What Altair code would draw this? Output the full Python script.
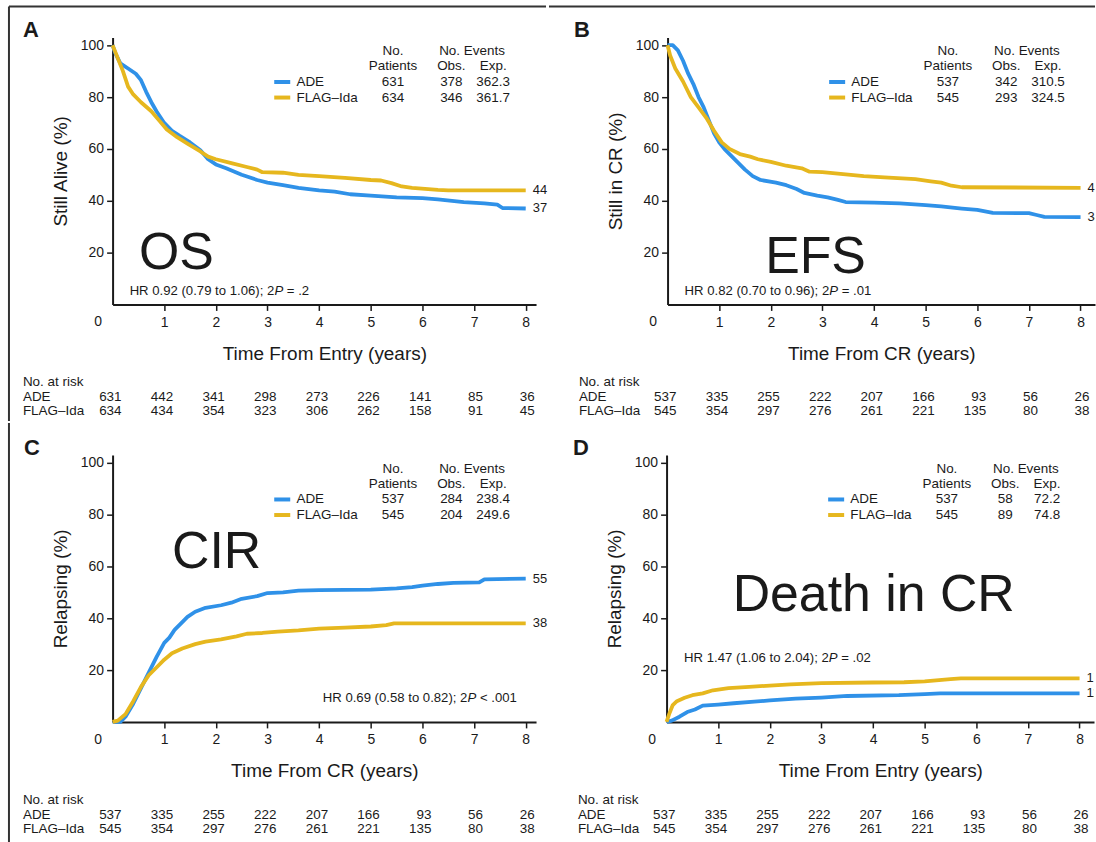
import altair as alt
import pandas as pd

FONT = "Liberation Sans"
INK = "#1a1a1a"
BLUE = "#2F91E8"
GOLD = "#E6B71E"
ARMS = ["ADE", "FLAG–Ida"]
YEARS = [0, 1, 2, 3, 4, 5, 6, 7, 8]
Y_TICKS = [20, 40, 60, 80, 100]

# ---------------- curve data (years, %) ----------------
OS_ADE_T = [0, 0.05, 0.15, 0.3, 0.45, 0.55, 0.65, 0.75, 0.85, 1.0, 1.15, 1.3, 1.5, 1.7, 1.85, 2.0, 2.2, 2.5, 2.8, 3.0,
            3.3, 3.6, 4.0, 4.3, 4.6, 5.0, 5.5, 6.0, 6.3, 6.8, 7.2, 7.45, 7.55, 8.0]
OS_ADE_V = [100, 97, 93, 91, 89, 86.5, 82, 78, 74.5, 70, 67, 65, 62.5, 59.5, 56, 54, 52.5, 50, 48, 47,
            46, 45, 44, 43.5, 42.5, 42, 41.3, 41, 40.5, 39.5, 39, 38.5, 37.2, 37]
OS_FLAG_T = [0, 0.1, 0.2, 0.3, 0.4, 0.55, 0.75, 0.9, 1.05, 1.25, 1.45, 1.7, 1.85, 2.0, 2.3, 2.6, 2.8, 2.9, 3.3, 3.6,
             4.0, 4.5, 5.0, 5.2, 5.4, 5.6, 5.8, 6.3, 6.5, 8.0]
OS_FLAG_V = [100, 95, 90, 84, 81, 78, 74.5, 71, 67.5, 64.5, 62, 59, 57, 56, 54.5, 53, 52, 51, 50.8, 50,
             49.5, 48.8, 48, 47.8, 46.8, 45.5, 45, 44.2, 44, 44]

EFS_ADE_T = [0, 0.1, 0.2, 0.3, 0.4, 0.5, 0.6, 0.7, 0.8, 0.9, 1.0, 1.1, 1.2, 1.35, 1.5, 1.65, 1.8, 2.1, 2.3, 2.5,
             2.65, 2.9, 3.1, 3.3, 3.45, 4.0, 4.5, 5.0, 5.3, 5.7, 6.0, 6.3, 7.0, 7.15, 7.3, 8.0]
EFS_ADE_V = [100, 100, 98, 94, 89, 85, 80, 76, 71, 66, 62.5, 60, 58, 55, 52, 49.5, 48, 47, 46, 44.5,
             43, 42, 41.3, 40.3, 39.5, 39.3, 39, 38.3, 37.8, 37, 36.5, 35.3, 35.2, 34.5, 33.8, 33.7]
EFS_FLAG_T = [0, 0.05, 0.15, 0.3, 0.45, 0.6, 0.75, 0.9, 1.05, 1.2, 1.4, 1.6, 1.75, 2.0, 2.3, 2.6, 2.75, 3.0, 3.4, 3.8,
              4.2, 4.8, 5.1, 5.3, 5.5, 5.7, 8.0]
EFS_FLAG_V = [100, 96, 91, 86, 80, 76, 72, 67, 62.5, 60, 58, 57, 56, 55, 53.5, 52.5, 51.2, 51, 50.3, 49.5,
              49, 48.3, 47.5, 47, 45.8, 45.2, 45]

CIR_ADE_T = [0, 0.15, 0.25, 0.4, 0.55, 0.7, 0.85, 1.0, 1.1, 1.2, 1.35, 1.45, 1.6, 1.8, 2.1, 2.3, 2.5, 2.8, 3.0, 3.3,
             3.6, 4.0, 5.0, 5.5, 5.8, 6.0, 6.3, 6.6, 7.1, 7.2, 8.0]
CIR_ADE_V = [0, 0, 2, 7, 13, 19, 25, 30.5, 32.5, 35.5, 38.5, 40.5, 42.5, 44, 45, 46, 47.5, 48.5, 49.7, 50,
             50.6, 50.8, 51, 51.5, 52, 52.6, 53.2, 53.6, 53.8, 55, 55.3]
CIR_FLAG_T = [0, 0.1, 0.25, 0.4, 0.55, 0.7, 0.85, 1.0, 1.15, 1.35, 1.6, 1.8, 2.1, 2.4, 2.6, 2.9, 3.2, 3.6, 4.0, 4.5,
              5.0, 5.3, 5.45, 8.0]
CIR_FLAG_V = [0, 0.5, 3, 8, 13.5, 18, 21, 24, 26.5, 28.3, 30, 31, 31.8, 33, 34, 34.3, 34.8, 35.3, 36, 36.4,
              36.8, 37.3, 38, 38]

DCR_ADE_T = [0, 0.1, 0.25, 0.4, 0.55, 0.7, 1.0, 1.3, 1.7, 2.0, 2.5, 3.0, 3.5, 4.5, 5.0, 5.3, 8.0]
DCR_ADE_V = [0, 0.5, 2, 3.8, 4.8, 6.3, 6.7, 7.2, 7.8, 8.3, 9, 9.4, 10, 10.3, 10.7, 11, 11]
DCR_FLAG_T = [0, 0.05, 0.12, 0.2, 0.35, 0.5, 0.7, 0.9, 1.2, 1.6, 2.0, 2.4, 3.0, 4.0, 4.6, 5.0, 5.5, 5.7, 8.0]
DCR_FLAG_V = [0, 3, 6.5, 8, 9.3, 10.3, 11, 12.2, 13, 13.5, 14, 14.5, 15, 15.2, 15.3, 15.6, 16.5, 16.8, 16.8]

CURVES = [
    ((OS_ADE_T, OS_ADE_V), (OS_FLAG_T, OS_FLAG_V)),
    ((EFS_ADE_T, EFS_ADE_V), (EFS_FLAG_T, EFS_FLAG_V)),
    ((CIR_ADE_T, CIR_ADE_V), (CIR_FLAG_T, CIR_FLAG_V)),
    ((DCR_ADE_T, DCR_ADE_V), (DCR_FLAG_T, DCR_FLAG_V)),
]

# ---------------- texts and tables ----------------
PANEL_LETTERS = ["A", "B", "C", "D"]
Y_TITLES = ["Still Alive (%)", "Still in CR (%)", "Relapsing (%)", "Relapsing (%)"]
X_TITLES = ["Time From Entry (years)", "Time From CR (years)", "Time From CR (years)", "Time From Entry (years)"]
BIG_LABELS = ["OS", "EFS", "CIR", "Death in CR"]
PATIENTS = [[631, 634], [537, 545], [537, 545], [537, 545]]
OBS = [[378, 346], [342, 293], [284, 204], [58, 89]]
EXP = [["362.3", "361.7"], ["310.5", "324.5"], ["238.4", "249.6"], ["72.2", "74.8"]]
HR_HEAD = ["HR 0.92 (0.79 to 1.06); 2", "HR 0.82 (0.70 to 0.96); 2",
           "HR 0.69 (0.58 to 0.82); 2", "HR 1.47 (1.06 to 2.04); 2"]
HR_TAIL = ["= .2", "= .01", "< .001", "= .02"]
END_LABELS = [["37", "44"], ["34", "45"], ["55", "38"], ["11", "17"]]

OS_RISK_ADE = [631, 442, 341, 298, 273, 226, 141, 85, 36]
OS_RISK_FLAG = [634, 434, 354, 323, 306, 262, 158, 91, 45]
CR_RISK_ADE = [537, 335, 255, 222, 207, 166, 93, 56, 26]
CR_RISK_FLAG = [545, 354, 297, 276, 261, 221, 135, 80, 38]
RISK = [(OS_RISK_ADE, OS_RISK_FLAG), (CR_RISK_ADE, CR_RISK_FLAG),
        (CR_RISK_ADE, CR_RISK_FLAG), (CR_RISK_ADE, CR_RISK_FLAG)]

# ---------------- layout ----------------
PX = 51.8          # pixels per year
H = 268            # plot height
YMAX = 103
HR_SIZE = 13.2
TXT = 13.5
LEG_ROWS = [97.7, 91.8, 85.8, 79.8]
LEG_SWATCH = (3.13, 3.44)
LEG_NAME_X = 3.56
LEG_COLS = [5.43, 6.56, 7.37]
LEG_EVENTS_X = 6.96
GEO = [
    dict(xmax=8.2, box=(-113, 435, -36, 385), top=True, left=True, lx=-90, rx=-90, clip=False,
         big=(0.51, 13.8), hr=(0.33, 5.3)),
    dict(xmax=8.28, box=(-119, 429, -36, 385), top=True, left=False, lx=-94, rx=-89, clip=True,
         big=(1.89, 12.3), hr=(0.33, 5.1)),
    dict(xmax=8.2, box=(-113, 435, -32, 389), top=False, left=True, lx=-89, rx=-90, clip=False,
         big=(1.15, 59.3), hr=(4.07, 9.3)),
    dict(xmax=8.28, box=(-119, 429, -32, 389), top=False, left=False, lx=-94, rx=-89, clip=True,
         big=(1.28, 42.7), hr=(0.34, 24.5)),
]

ARIAL = {' ': .278, '.': .278, '(': .333, ')': .333, ';': .278, '=': .584, '<': .584,
         'H': .722, 'R': .722, 'P': .667, 't': .278, 'o': .556}


def tw(s, size):
    return size * sum(ARIAL.get(c, .556) for c in s)


def one():
    return pd.DataFrame({"k": [0]})


color = alt.Color("arm:N", scale=alt.Scale(domain=ARMS, range=[BLUE, GOLD]), legend=None)


def panel(i):
    g = GEO[i]
    W = round(g["xmax"] * PX)
    xs = alt.Scale(domain=[0, g["xmax"]], nice=False, zero=False)
    ys = alt.Scale(domain=[0, YMAX], nice=False, zero=False)
    xaxis = alt.Axis(values=YEARS[1:], format="d", title=X_TITLES[i], titleY=49, titleBaseline="middle",
                     labelBaseline="middle", labelPadding=12, tickSize=6, grid=False, labelFlush=False)
    yaxis = alt.Axis(values=Y_TICKS, title=Y_TITLES[i], titleX=-52, titleY=H / 2, titleAngle=270,
                     titleBaseline="middle", titleAlign="center", tickSize=6, labelPadding=3, grid=False,
                     labelFlush=False)

    def X(f="t"):
        return alt.X(f"{f}:Q", scale=xs, axis=xaxis)

    def Y(f="v"):
        return alt.Y(f"{f}:Q", scale=ys, axis=yaxis)

    layers = []
    L, R, T, B = g["box"]
    layers.append(alt.Chart(one()).mark_rect(opacity=0).encode(
        x=alt.value(L), x2=alt.value(R), y=alt.value(T), y2=alt.value(B)))
    if g["top"]:
        layers.append(alt.Chart(one()).mark_rule(stroke="#333333", strokeWidth=2).encode(
            x=alt.value(L if not g["left"] else -104), x2=alt.value(R), y=alt.value(-31)))
    if g["left"]:
        layers.append(alt.Chart(one()).mark_rule(stroke="#333333", strokeWidth=2).encode(
            x=alt.value(-104), y=alt.value(-31 if g["top"] else T), y2=alt.value(B)))

    rows = []
    for arm, (ts, vs) in zip(ARMS, CURVES[i]):
        for t, v in zip(ts, vs):
            rows.append({"t": t, "v": v, "arm": arm})
    cdf = pd.DataFrame(rows)
    layers.append(alt.Chart(cdf).mark_line(strokeWidth=3.8, strokeJoin="round").encode(
        x=X(), y=Y(), color=color, order=alt.Order("t:Q")))

    # end labels
    edf = pd.DataFrame({"t": [8, 8], "v": [CURVES[i][0][1][-1], CURVES[i][1][1][-1]], "s": END_LABELS[i]})
    layers.append(alt.Chart(edf).mark_text(align="left", baseline="middle", dx=7, fontSize=13,
                                           clip=g["clip"]).encode(x=X(), y=Y(), text="s:N"))

    # legend table
    sdf = pd.DataFrame({"x1": [LEG_SWATCH[0]] * 2, "x2": [LEG_SWATCH[1]] * 2,
                        "v": LEG_ROWS[2:], "arm": ARMS})
    layers.append(alt.Chart(sdf).mark_rule(strokeWidth=4).encode(
        x=X("x1"), x2=alt.X2("x2"), y=Y(), color=color))
    ndf = pd.DataFrame({"t": [LEG_NAME_X] * 2, "v": LEG_ROWS[2:], "s": ARMS})
    layers.append(alt.Chart(ndf).mark_text(align="left", baseline="middle", fontSize=TXT).encode(
        x=X(), y=Y(), text="s:N"))
    trows = [
        (LEG_COLS[0], LEG_ROWS[0], "No."), (LEG_COLS[0], LEG_ROWS[1], "Patients"),
        (LEG_EVENTS_X, LEG_ROWS[0], "No. Events"), (LEG_COLS[1], LEG_ROWS[1], "Obs."),
        (LEG_COLS[2], LEG_ROWS[1], "Exp."),
    ]
    for k in range(2):
        trows += [(LEG_COLS[0], LEG_ROWS[2 + k], str(PATIENTS[i][k])),
                  (LEG_COLS[1], LEG_ROWS[2 + k], str(OBS[i][k])),
                  (LEG_COLS[2], LEG_ROWS[2 + k], EXP[i][k])]
    tdf = pd.DataFrame(trows, columns=["t", "v", "s"])
    layers.append(alt.Chart(tdf).mark_text(align="center", baseline="middle", fontSize=TXT).encode(
        x=X(), y=Y(), text="s:N"))

    # big label
    bdf = pd.DataFrame({"t": [g["big"][0]], "v": [g["big"][1]], "s": [BIG_LABELS[i]]})
    layers.append(alt.Chart(bdf).mark_text(align="left", baseline="alphabetic", fontSize=52).encode(
        x=X(), y=Y(), text="s:N"))

    # hazard ratio line with italic P
    hx, hy = g["hr"]
    head = HR_HEAD[i]
    w1 = tw(head, HR_SIZE)
    w2 = w1 + tw("P", HR_SIZE) + tw(" ", HR_SIZE)
    for txt, dx, style in [(head, 0, "normal"), ("P", w1, "italic"), (HR_TAIL[i], w2, "normal")]:
        hdf = pd.DataFrame({"t": [hx], "v": [hy], "s": [txt]})
        layers.append(alt.Chart(hdf).mark_text(align="left", baseline="middle", fontSize=HR_SIZE, dx=dx,
                                               fontStyle=style).encode(x=X(), y=Y(), text="s:N"))

    # panel letter
    layers.append(alt.Chart(one()).mark_text(align="left", baseline="alphabetic", fontSize=22,
                                             fontWeight="bold", text=PANEL_LETTERS[i]).encode(
        x=alt.value(g["lx"]), y=alt.value(0)))

    # the shifted "0" tick label
    zdf = pd.DataFrame({"t": [0], "s": ["0"]})
    layers.append(alt.Chart(zdf).mark_text(align="center", baseline="middle", fontSize=14, dx=-14.5).encode(
        x=X(), y=alt.value(H + 18), text="s:N"))

    # number-at-risk table
    for lab, yy in [("No. at risk", H + 78), (ARMS[0], H + 93), (ARMS[1], H + 107)]:
        layers.append(alt.Chart(one()).mark_text(align="left", baseline="middle", fontSize=TXT, text=lab).encode(
            x=alt.value(g["rx"]), y=alt.value(yy)))
    for k, yy in enumerate([H + 93, H + 107]):
        rdf = pd.DataFrame({"t": YEARS, "s": [str(n) for n in RISK[i][k]]})
        layers.append(alt.Chart(rdf).mark_text(align="right", baseline="middle", fontSize=TXT, dx=9).encode(
            x=X(), y=alt.value(yy), text="s:N"))

    return alt.layer(*layers).properties(width=W, height=H)


top = alt.hconcat(panel(0), panel(1), spacing=0)
bottom = alt.hconcat(panel(2), panel(3), spacing=0)
chart = alt.vconcat(top, bottom, spacing=0).properties(
    padding=0, background="white"
).configure(font=FONT).configure_view(stroke=None).configure_axis(
    labelFont=FONT, titleFont=FONT, labelFontSize=14, titleFontSize=19, titleFontWeight="normal",
    labelColor=INK, titleColor=INK, domainColor=INK, tickColor=INK, domainWidth=2, tickWidth=1.5
).configure_text(color=INK, font=FONT)

chart.save("out.html", embed_options={"renderer": "svg", "actions": False})
